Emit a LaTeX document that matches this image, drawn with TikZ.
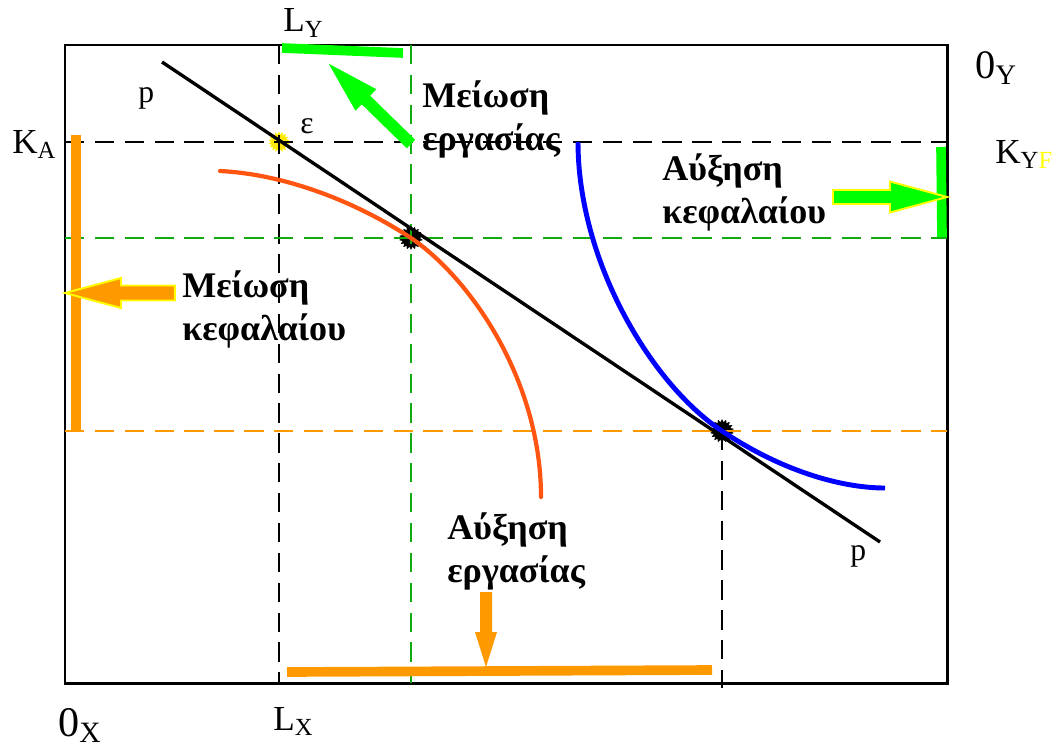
\documentclass[tikz,border=0pt]{standalone}
\usepackage{fontspec}
\setmainfont{Liberation Serif}
\usetikzlibrary{shapes.geometric}

\definecolor{capgreen}{HTML}{00FF00}
\definecolor{guidegreen}{HTML}{11AA11}
\definecolor{laborange}{HTML}{FF9900}
\definecolor{isoquant}{HTML}{FF5511}
\definecolor{isoblue}{HTML}{0000FF}
\definecolor{rimyellow}{HTML}{FFFF00}

% block arrow: #1 style, #2 tail, #3 angle, #4 length, #5 half shaft, #6 half head, #7 head length
\newcommand{\blockarrow}[7]{%
  \begin{scope}[shift={#2}, rotate=#3]
    \filldraw[#1] (0,-#5) -- ({#4-#7},-#5) -- ({#4-#7},-#6) -- (#4,0)
      -- ({#4-#7},#6) -- ({#4-#7},#5) -- (0,#5) -- cycle;
  \end{scope}}

\tikzset{
  frame/.style={line width=1.7pt},
  guide/.style={line width=1pt, dash pattern=on 11pt off 6pt},
  bar/.style={line width=5.5pt},
  eqpt/.style={star, star points=18, star point ratio=1.35,
    inner sep=0pt, minimum size=4.6mm,
    fill=black, draw=black, line width=0.2pt},
  axlbl/.style={inner sep=0pt, anchor=base west},
  note/.style={font=\bfseries\fontsize{20.5}{24}\selectfont, align=left,
    inner sep=0pt, anchor=base west},
}

\begin{document}
\begin{tikzpicture}[x=0.02cm, y=-0.02cm]
  \useasboundingbox (0,0) rectangle (1060,750);

  % corners of the box and the three allocations
  \coordinate (OX) at (65,683);
  \coordinate (OY) at (947,45);
  \coordinate (e0) at (279,142);
  \coordinate (e1) at (411,238);
  \coordinate (e2) at (722,431);
  \coordinate (p1) at (162,62);
  \coordinate (p2) at (880,542);

  % equilibrium marks (under the lines)
  \node[eqpt, fill=yellow!90!orange, draw=yellow, minimum size=4mm] (m0) at (e0) {};
  \node[eqpt] (m1) at (e1) {};
  \node[eqpt] (m2) at (e2) {};

  \draw[frame] (OX) rectangle (OY);

  % guide lines
  \draw[guide] (e0 |- OY) -- (e0 |- OX);
  \draw[guide] (e0 -| OX) -- (e0 -| OY);
  \draw[guide, guidegreen] (e1 |- OY) -- (e1 |- OX);
  \draw[guide, guidegreen] (e1 -| OX) -- (e1 -| OY);
  \draw[guide, laborange] (e2 -| OX) -- (e2 -| OY);
  \draw[guide] (e2) -- ([yshift=-0.1cm]e2 |- OX);

  % isoquants
  \draw[isoquant, line width=2.4pt, line cap=round]
    (220,171) .. controls (280,174) and (350,198) .. (e1)
    .. controls (470,278) and (541,380) .. (541,497);
  \draw[isoblue, line width=2.8pt]
    (578,142) .. controls (578,260) and (650,383) .. (e2)
    .. controls (780,470) and (840,488) .. (885,488);

  % price line
  \draw[line width=1.9pt] (p1) -- (p2);

  % factor shifts
  \draw[bar, capgreen] (282,48) -- (403,53);
  \draw[bar, capgreen] (941,147) -- (942,237);
  \draw[bar, laborange, line width=6pt] (76,135) -- (76,432);
  \draw[bar, laborange] (287,672) -- (712,670);

  \blockarrow{fill=capgreen, draw=none}{(411,144)}{135.7}{115}{6}{15}{52}
  \blockarrow{fill=capgreen, draw=rimyellow, line width=1.1pt}{(833,197)}{0}{114}{7}{15.5}{57}
  \blockarrow{fill=laborange, draw=rimyellow, line width=1.1pt}{(175,293)}{180}{110}{7.5}{15}{56}
  \blockarrow{fill=laborange, draw=none}{(486,592)}{-90}{75}{6}{11}{35}

  % labels
  \node[axlbl, font=\fontsize{23}{26}\selectfont] (oy) at (975,78) {0\textsubscript{Y}};
  \node[axlbl, font=\fontsize{24}{26}\selectfont] (ox) at (58,736) {0\textsubscript{X}};
  \node[axlbl, font=\fontsize{20}{22}\selectfont] (ly) at (283,32) {L\textsubscript{Y}};
  \node[axlbl, font=\fontsize{20}{22}\selectfont] (lx) at (273,730) {L\textsubscript{X}};
  \node[axlbl, font=\fontsize{20}{22}\selectfont] (ka) at (12,153) {K\textsubscript{A}};
  \node[axlbl, font=\fontsize{20}{22}\selectfont] (kyf) at (995,163)
    {K\textsubscript{Y\textcolor{rimyellow}{F}}};
  \node[axlbl, font=\fontsize{18}{20}\selectfont] (pa) at (138,102) {p};
  \node[axlbl, font=\fontsize{18}{20}\selectfont] (pb) at (850,560) {p};
  \node[axlbl, font=\fontsize{18}{20}\selectfont] (eps) at (300,133) {ε};

  \node[note] (labdown) at (422,150) {Μείωση\\εργασίας};
  \node[note] (capup) at (662,223) {Αύξηση\\κεφαλαίου};
  \node[note] (capdown) at (182,340) {Μείωση\\κεφαλαίου};
  \node[note] (labup) at (447,582) {Αύξηση\\εργασίας};
\end{tikzpicture}
\end{document}
